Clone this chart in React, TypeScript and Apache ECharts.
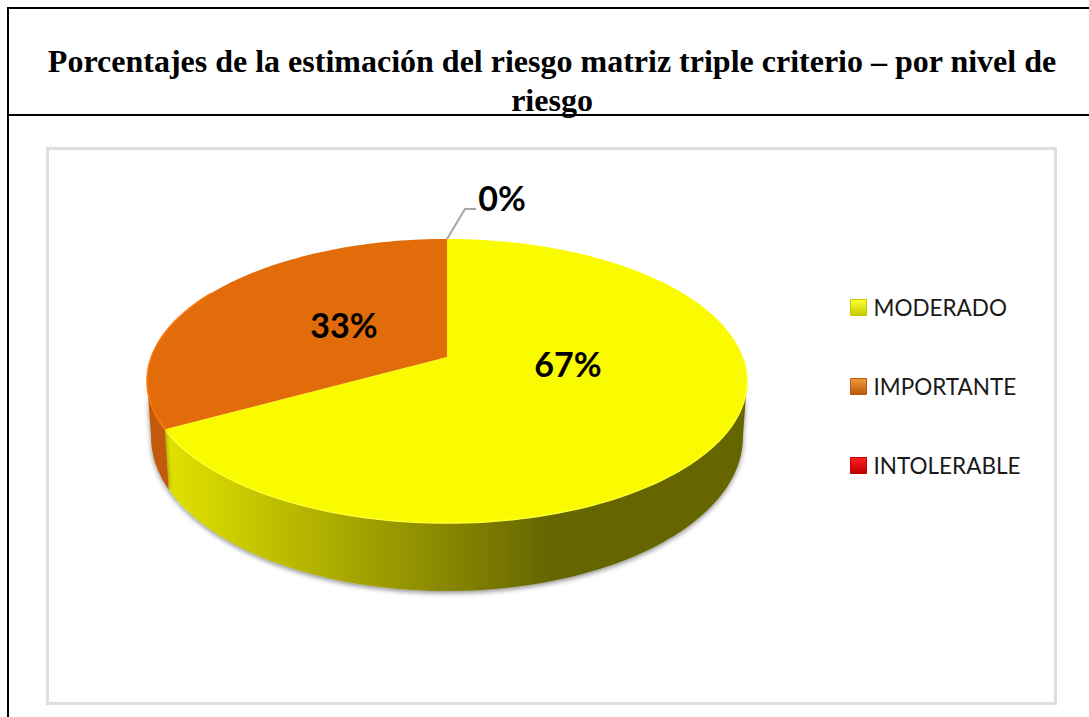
import React, { useEffect, useRef } from "react";
import * as echarts from "echarts";

const categories = ["MODERADO", "IMPORTANTE", "INTOLERABLE"];
const seriesValues = [67, 33, 0];
const titleLines = [
  "Porcentajes de la estimación del riesgo matriz triple criterio – por nivel de",
  "riesgo",
];

const topColors = ["#fafa00", "#e26b0a", "#ff0000"];
const rimColors = ["#ffff30", "#ff7a10", "#ff3030"];
const legendLight = ["#ffff33", "#f09a3e", "#ff2020"];
const legendDark = ["#c8c800", "#b9590c", "#c00000"];
const labelPositions = [
  [568, 363],
  [344, 324],
  [502, 197],
];

const wallFills = [
  {
    type: "linear", x: 0, y: 0, x2: 1, y2: 0,
    colorStops: [
      { offset: 0, color: "#e2e200" },
      { offset: 0.66, color: "#666600" },
      { offset: 1, color: "#666600" },
    ],
  },
  "#c25a08",
  "#a00000",
];

const TOTAL = seriesValues.reduce((a, b) => a + b, 0);
const CX = 447;
const K = 0.169;
const TOP_PLANE = { a: 295.7, b: 138, y0: 357 };
const LOW_PLANE = { a: 291.7, b: 149.6, y0: 411 };
const SILHOUETTE = 99.7;

// Tilted disc in perspective: theta is degrees clockwise from the top of the pie.
function project(plane: { a: number; b: number; y0: number }, theta: number, r = 1) {
  const t = (theta * Math.PI) / 180;
  const u = r * Math.sin(t);
  const v = -r * Math.cos(t);
  const d = 1 - K * v;
  return [CX + (plane.a * u) / d, plane.y0 + (plane.b * v) / d];
}

function arc(plane: { a: number; b: number; y0: number }, from: number, to: number) {
  const pts: number[][] = [];
  const steps = Math.max(2, Math.ceil(Math.abs(to - from) / 1.5));
  for (let i = 0; i <= steps; i++) pts.push(project(plane, from + ((to - from) * i) / steps));
  return pts;
}

function makeRender(index: number) {
  return (_params: any, api: any) => {
    const value = api.value(0) as number;
    const before = seriesValues.slice(0, index).reduce((a, b) => a + b, 0);
    const start = (before / TOTAL) * 360;
    const end = ((before + value) / TOTAL) * 360;
    const children: any[] = [];
    const [lx, ly] = labelPositions[index];

    if (value > 0) {
      const wallFrom = Math.max(start, SILHOUETTE);
      const wallTo = Math.min(end, 360 - SILHOUETTE);
      if (wallTo > wallFrom) {
        children.push({
          type: "polygon",
          shape: {
            points: [...arc(TOP_PLANE, wallFrom, wallTo), ...arc(LOW_PLANE, wallTo, wallFrom)],
          },
          style: {
            fill: wallFills[index],
            shadowBlur: 5,
            shadowColor: "rgba(0,0,0,0.45)",
            shadowOffsetY: 2,
          },
        });
      }
      children.push({
        type: "polygon",
        shape: { points: [[CX, TOP_PLANE.y0], ...arc(TOP_PLANE, start, end)] },
        style: { fill: topColors[index] },
      });
      children.push({
        type: "polyline",
        shape: { points: arc(TOP_PLANE, Math.max(start, 90), Math.min(end, 300)) },
        style: { stroke: rimColors[index], lineWidth: 1.5, fill: "none" },
      });
    } else {
      const from = project(TOP_PLANE, start);
      children.push({
        type: "polyline",
        shape: { points: [from, [from[0] + 18, from[1] - 30], [from[0] + 29, from[1] - 30]] },
        style: { stroke: "#a6a6a6", lineWidth: 2, fill: "none" },
      });
    }

    children.push({
      type: "text",
      x: lx,
      y: ly,
      style: {
        text: `${Math.round((value / TOTAL) * 100)}%`,
        fontFamily: "Lato",
        fontWeight: "bold",
        fontSize: 34,
        fill: "#000000",
        align: "center",
        verticalAlign: "middle",
      },
    });
    return { type: "group", children };
  };
}

export default function App() {
  const ref = useRef<HTMLDivElement>(null);
  useEffect(() => {
    document.body.style.margin = "0";
    const chart = echarts.init(ref.current!, undefined, { renderer: "svg" });
    chart.setOption({
      animation: false,
      backgroundColor: "#ffffff",
      title: {
        text: titleLines.join("\n"),
        left: 547,
        top: 36,
        textAlign: "center",
        textStyle: {
          fontFamily: "Liberation Serif",
          fontWeight: "bold",
          fontSize: 32,
          lineHeight: 39,
          color: "#000000",
        },
      },
      legend: {
        orient: "vertical",
        left: 845,
        top: 291,
        itemWidth: 16,
        itemHeight: 16,
        itemGap: 56,
        selectedMode: false,
        icon: "rect",
        textStyle: {
          fontFamily: "Lato",
          fontSize: 22.5,
          color: "#1a1a1a",
          padding: [0, 0, 0, 2],
        },
        data: categories.map((name, i) => ({
          name,
          itemStyle: {
            color: {
              type: "linear", x: 0, y: 0, x2: 0, y2: 1,
              colorStops: [
                { offset: 0, color: legendLight[i] },
                { offset: 1, color: legendDark[i] },
              ],
            },
            borderColor: legendDark[i],
            borderWidth: 1,
          },
        })),
      },
      graphic: [
        { type: "rect", shape: { x: 47.5, y: 148.5, width: 1008, height: 555 }, style: { fill: "#ffffff", stroke: "#dedede", lineWidth: 3 }, z: -1 },
        { type: "line", shape: { x1: 8, y1: 8, x2: 1089, y2: 8 }, style: { stroke: "#000000", lineWidth: 2 } },
        { type: "line", shape: { x1: 8, y1: 7, x2: 8, y2: 717 }, style: { stroke: "#000000", lineWidth: 2 } },
        { type: "line", shape: { x1: 8, y1: 115, x2: 1089, y2: 115 }, style: { stroke: "#000000", lineWidth: 2 } },
      ],
      series: categories.map((name, i) => ({
        type: "custom",
        name,
        coordinateSystem: "none",
        silent: true,
        itemStyle: { color: topColors[i] },
        data: [[seriesValues[i]]],
        renderItem: makeRender(i),
      })),
    });
    return () => chart.dispose();
  }, []);
  return <div ref={ref} style={{ position: "absolute", left: 0, top: 0, width: 1089, height: 717 }} />;
}
